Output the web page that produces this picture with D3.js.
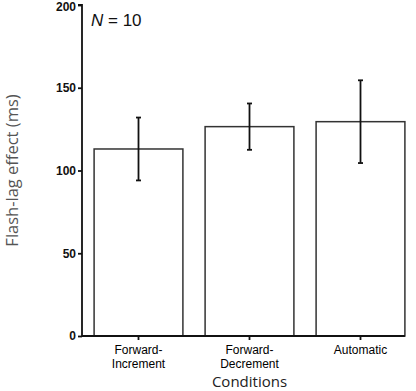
<!DOCTYPE html>
<html>
<head>
<meta charset="utf-8">
<script src="https://cdn.jsdelivr.net/npm/d3@7"></script>
<style>
  html, body { margin: 0; padding: 0; background: #fff; }
  svg { display: block; }
</style>
</head>
<body>
<div id="chart"></div>
<script>
// bar chart: flash-lag effect per condition, mean +/- error
const categories = [['Forward-', 'Increment'], ['Forward-', 'Decrement'], ['Automatic']];
const means = [113, 126.5, 129.5];
const errors = [19, 14, 25];
const yTicks = [0, 50, 100, 150, 200];

const width = 416;
const height = 391;
const margin = { top: 5, right: 0, bottom: 55, left: 82 };

const svg = d3.select('#chart')
  .append('svg')
  .attr('width', width)
  .attr('height', height);

const x = d3.scaleBand()
  .domain(d3.range(categories.length))
  .range([margin.left + 1, width])
  .paddingInner(0.2)
  .paddingOuter(0.1);

const y = d3.scaleLinear()
  .domain([0, 200])
  .range([height - margin.bottom, margin.top]);

// bars
svg.append('g')
  .selectAll('rect')
  .data(means)
  .enter()
  .append('rect')
  .attr('x', (d, i) => x(i))
  .attr('y', d => y(d))
  .attr('width', x.bandwidth())
  .attr('height', d => y(0) - y(d))
  .attr('fill', '#fff')
  .attr('stroke', '#333')
  .attr('stroke-width', 1.5);

// error bars
const eb = svg.append('g')
  .selectAll('g')
  .data(means)
  .enter()
  .append('g')
  .attr('stroke', '#111')
  .attr('stroke-width', 1.8);
eb.append('line')
  .attr('x1', (d, i) => x(i) + x.bandwidth() / 2)
  .attr('x2', (d, i) => x(i) + x.bandwidth() / 2)
  .attr('y1', (d, i) => y(d + errors[i]))
  .attr('y2', (d, i) => y(d - errors[i]));
eb.append('line')
  .attr('x1', (d, i) => x(i) + x.bandwidth() / 2 - 2.5)
  .attr('x2', (d, i) => x(i) + x.bandwidth() / 2 + 2.5)
  .attr('y1', (d, i) => y(d + errors[i]))
  .attr('y2', (d, i) => y(d + errors[i]));
eb.append('line')
  .attr('x1', (d, i) => x(i) + x.bandwidth() / 2 - 2.5)
  .attr('x2', (d, i) => x(i) + x.bandwidth() / 2 + 2.5)
  .attr('y1', (d, i) => y(d - errors[i]))
  .attr('y2', (d, i) => y(d - errors[i]));

// y axis
const yAxis = svg.append('g')
  .attr('transform', `translate(${margin.left},0)`)
  .call(d3.axisLeft(y).tickValues(yTicks).tickSize(4).tickPadding(2));
yAxis.select('.domain').attr('d', `M-4,${y(200)}H0V${y(0)}`);
yAxis.selectAll('line, path').attr('stroke', '#111').attr('stroke-width', 1.8);
yAxis.selectAll('text')
  .style('font-family', 'Liberation Sans, Arial, sans-serif')
  .style('font-size', '12px')
  .style('font-weight', 'bold')
  .attr('fill', '#111');
yAxis.selectAll('.tick').filter(d => d === 200).select('text').attr('dy', '0.45em');

// x axis
const xAxis = svg.append('g')
  .attr('transform', `translate(0,${y(0)})`)
  .call(d3.axisBottom(x).tickSize(4).tickFormat(''));
xAxis.select('.domain').attr('d', `M${margin.left},0H${x(categories.length - 1) + x.bandwidth()}`);
xAxis.selectAll('line, path').attr('stroke', '#111').attr('stroke-width', 1.8);

const xl = svg.append('g')
  .selectAll('text')
  .data(categories)
  .enter()
  .append('text')
  .attr('x', (d, i) => x(i) + x.bandwidth() / 2)
  .attr('y', y(0) + 18)
  .attr('text-anchor', 'middle')
  .style('font-family', 'Liberation Sans, Arial, sans-serif')
  .style('font-size', '12px')
  .style('font-weight', '500')
  .attr('fill', '#000');
xl.selectAll('tspan')
  .data(d => d)
  .enter()
  .append('tspan')
  .attr('x', function() { return this.parentNode.getAttribute('x'); })
  .attr('dy', (d, i) => i === 0 ? 0 : 13.5)
  .text(d => d);

// axis titles
svg.append('text')
  .attr('x', x(1) + x.bandwidth() / 2)
  .attr('y', 387)
  .attr('text-anchor', 'middle')
  .style('font-family', 'Open Sans, sans-serif')
  .style('font-size', '15px')
  .attr('fill', '#222')
  .text('Conditions');

svg.append('text')
  .attr('transform', `translate(18,${(y(0) + y(200)) / 2}) rotate(-90)`)
  .attr('text-anchor', 'middle')
  .style('font-family', 'Open Sans, sans-serif')
  .style('font-size', '16.5px')
  .attr('fill', '#555')
  .text('Flash-lag effect (ms)');

// sample size note
const note = svg.append('text')
  .attr('x', 91)
  .attr('y', 26)
  .style('font-family', 'Liberation Sans, Arial, sans-serif')
  .style('font-size', '17px')
  .attr('fill', '#111');
note.append('tspan').style('font-style', 'italic').text('N');
note.append('tspan').text(' = 10');
</script>
</body>
</html>
